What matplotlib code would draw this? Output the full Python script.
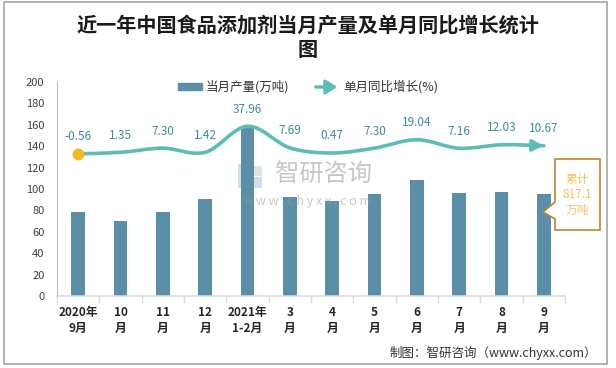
import matplotlib
matplotlib.use('Agg')
import matplotlib.pyplot as plt
from matplotlib.path import Path
from matplotlib.patches import PathPatch, Polygon, Rectangle, FancyArrowPatch
import numpy as np

plt.rcParams['font.family'] = ['Noto Sans CJK SC', 'DejaVu Sans']

# ---------------- data ----------------
categories = ['2020年\n9月', '10\n月', '11\n月', '12\n月', '2021年\n1-2月', '3\n月',
              '4\n月', '5\n月', '6\n月', '7\n月', '8\n月', '9\n月']
production = [78.5, 70.1, 78.5, 90.7, 158.9, 92.5, 88.8, 95.3, 108.4, 96.3, 97.2, 95.3]
growth = [-0.56, 1.35, 7.30, 1.42, 37.96, 7.69, 0.47, 7.30, 19.04, 7.16, 12.03, 10.67]
growth_labels = ['-0.56', '1.35', '7.30', '1.42', '37.96', '7.69', '0.47', '7.30',
                 '19.04', '7.16', '12.03', '10.67']
y_ticks = [0, 20, 40, 60, 80, 100, 120, 140, 160, 180, 200]
cumulative_text = '累计\n817.1\n万吨'
title_text = '近一年中国食品添加剂当月产量及单月同比增长统计\n图'
legend_bar = '当月产量(万吨)'
legend_line = '单月同比增长(%)'
source_text = '制图：智研咨询（www.chyxx.com）'

BAR_C = '#5B8FA8'
LINE_C = '#5CBDB5'
LABEL_C = '#3D8C9C'
GOLD = '#F7C25A'

W, H = 616, 368
fig = plt.figure(figsize=(W / 100, H / 100), dpi=100)

def fx(px):
    return px / W

def fy(py):
    return 1 - py / H

# outer frame
fig.add_artist(Rectangle((fx(4), fy(364)), fx(603), (364 - 2) / H, transform=fig.transFigure,
                         fill=False, edgecolor='#A6A6A6', lw=1.2))

# watermark (behind chart)
fig.add_artist(Rectangle((fx(238), fy(188)), fx(10), 24 / H, transform=fig.transFigure,
                         color='#A9C4E0', alpha=0.55, lw=0, zorder=0))
fig.add_artist(Rectangle((fx(251), fy(188)), fx(11), 11 / H, transform=fig.transFigure,
                         color='#A9C4E0', alpha=0.55, lw=0, zorder=0))
fig.add_artist(Rectangle((fx(251), fy(176)), fx(11), 10 / H, transform=fig.transFigure,
                         color='#C9C9C9', alpha=0.55, lw=0, zorder=0))
fig.text(fx(324), fy(175), '智研咨询', ha='center', va='center', fontsize=17.5,
         color='#9A9A9A', alpha=0.55)
fig.text(fx(307), fy(201), 'w w w . c h y x x . c o m', ha='center', va='center',
         fontsize=9, color='#9A9A9A', alpha=0.55)

ax = fig.add_axes([fx(57), fy(296), fx(508), 214 / H])
ax.patch.set_alpha(0)
x = np.arange(len(categories))
ax.bar(x, production, width=0.33, color=BAR_C, zorder=2)
ax.set_xlim(-0.5, len(categories) - 0.5)
ax.set_ylim(0, 200)
ax.set_yticks(y_ticks)
ax.tick_params(axis='y', length=0, labelsize=8, colors='#404040', pad=9)
ax.set_xticks(x)
ax.set_xticklabels(categories, fontsize=8.5, fontweight='bold', color='#262626', linespacing=1.35)
ax.set_xticks(np.arange(-0.5, len(categories), 1), minor=True)
ax.tick_params(axis='x', which='major', length=0, pad=7)
ax.tick_params(axis='x', which='minor', length=5, color='#D9D9D9', width=1)
for s in ['top', 'right']:
    ax.spines[s].set_visible(False)
ax.spines['left'].set_color('#BFBFBF')
ax.spines['bottom'].set_color('#D9D9D9')
ax.spines['bottom'].set_linewidth(1.2)

# secondary axis for growth
ax2 = ax.twinx()
ax2.set_ylim(-200, 100)
ax2.axis('off')

pts = np.column_stack([x, growth]).astype(float)
verts = [tuple(pts[0])]
codes = [Path.MOVETO]
n = len(pts)
last_c2 = None
for i in range(n - 1):
    p0 = pts[i - 1] if i > 0 else pts[i]
    p1 = pts[i]
    p2 = pts[i + 1]
    p3 = pts[i + 2] if i + 2 < n else pts[i + 1]
    c1 = p1 + (p2 - p0) / 6.0
    c2 = p2 - (p3 - p1) / 6.0
    verts += [tuple(c1), tuple(c2), tuple(p2)]
    codes += [Path.CURVE4, Path.CURVE4, Path.CURVE4]
    last_c2 = c2
path = Path(verts, codes)
ax2.add_patch(PathPatch(path, facecolor='none', edgecolor=LINE_C, lw=2.6, zorder=3,
                        capstyle='round'))
ax2.annotate('', xy=tuple(pts[-1]), xytext=tuple(last_c2),
             arrowprops=dict(arrowstyle='-|>,head_length=0.7,head_width=0.35', color=LINE_C,
                             lw=2.2, shrinkA=0, shrinkB=0), zorder=4)
ax2.plot(x[0], growth[0], 'o', ms=7.5, color='#F5B921', zorder=5)

for xi, g, lab in zip(x, growth, growth_labels):
    ax2.annotate(lab, (xi, g), xytext=(0, 17), textcoords='offset pixels', ha='center',
                 va='center', fontsize=8.5, color=LABEL_C, zorder=6)

# title
fig.text(0.5, fy(37), title_text, ha='center', va='center', fontsize=14.5, fontweight='bold',
         color='#1A1A1A', linespacing=1.2)

# legend
fig.add_artist(Rectangle((fx(178), fy(90)), fx(24), 7 / H, transform=fig.transFigure,
                         color=BAR_C))
fig.text(fx(206), fy(87), legend_bar, ha='left', va='center', fontsize=9, color='#333333')
fig.add_artist(FancyArrowPatch((fx(313), fy(87)), (fx(340), fy(87)), transform=fig.transFigure,
                               arrowstyle='-|>,head_length=0.55,head_width=0.35',
                               mutation_scale=12, color=LINE_C, lw=2.4))
fig.text(fx(343), fy(87), legend_line, ha='left', va='center', fontsize=9, color='#333333')

# callout
poly = [(555, 159), (600, 159), (600, 230), (555, 230), (555, 219), (543, 212), (555, 202)]
fig.add_artist(Polygon([(fx(a), fy(b)) for a, b in poly], closed=True, transform=fig.transFigure,
                       facecolor='white', edgecolor='#B8862B', lw=1.2, zorder=10))
fig.text(fx(577), fy(195), cumulative_text, ha='center', va='center', fontsize=8.5,
         color=GOLD, linespacing=1.2, zorder=11)

# source
fig.text(fx(597), fy(353), source_text, ha='right', va='center', fontsize=9, color='#333333')

fig.savefig('out.png', dpi=100)
